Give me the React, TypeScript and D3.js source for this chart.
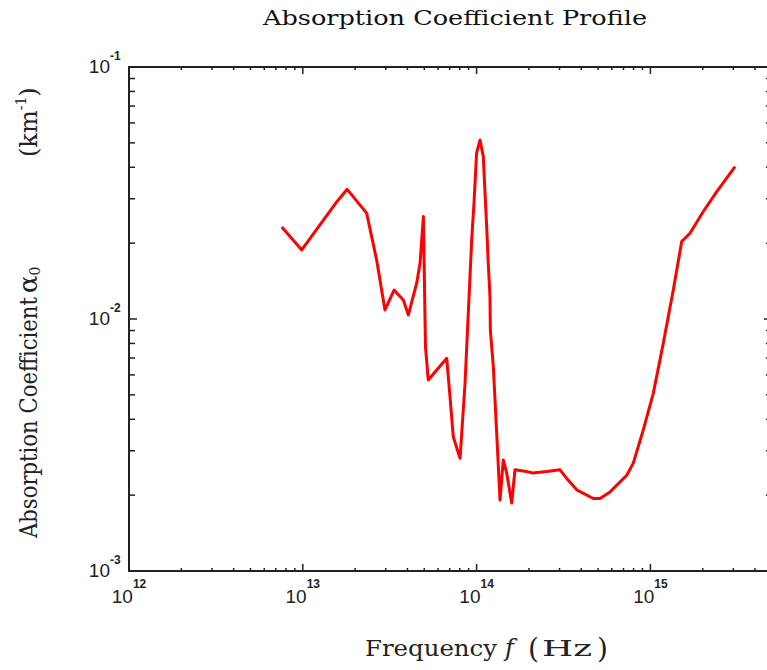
import React from "react";
import * as d3 from "d3";

// frequency (Hz) and absorption coefficient (1/km)
const freq = [
  7.57e12, 9.86e12, 1.57e13, 1.8e13, 2.33e13, 2.66e13, 2.97e13, 3.35e13, 3.79e13, 4.05e13,
  4.52e13, 4.73e13, 4.94e13, 5.08e13, 5.27e13, 6.73e13, 7.03e13, 7.34e13, 8.03e13, 8.58e13,
  8.96e13, 9.37e13, 9.66e13, 1.0e14, 1.046e14, 1.093e14, 1.118e14, 1.143e14, 1.167e14, 1.194e14,
  1.2e14, 1.248e14, 1.305e14, 1.364e14, 1.424e14, 1.49e14, 1.592e14, 1.663e14, 1.94e14, 2.11e14,
  2.53e14, 3.02e14, 3.3e14, 3.77e14, 4.69e14, 5.13e14, 5.86e14, 7.31e14, 7.97e14, 9.1e14,
  1.039e15, 1.186e15, 1.354e15, 1.514e15, 1.69e15, 2.015e15, 2.41e15, 3.07e15,
];
const alpha = [
  0.0232, 0.0188, 0.0292, 0.0327, 0.0263, 0.01714, 0.01086, 0.01303, 0.0119, 0.01038,
  0.01387, 0.01667, 0.0255, 0.00776, 0.00573, 0.00698, 0.00492, 0.00341, 0.0028, 0.00556,
  0.01057, 0.0206, 0.0288, 0.0456, 0.0513, 0.0441, 0.0316, 0.0232, 0.01667, 0.01226,
  0.00904, 0.00647, 0.00352, 0.00191, 0.00276, 0.00245, 0.00186, 0.00252, 0.00248, 0.00245,
  0.00248, 0.00252, 0.00233, 0.0021, 0.00194, 0.00194, 0.00206, 0.0024, 0.00268, 0.00363,
  0.00507, 0.00801, 0.01303, 0.0203, 0.0219, 0.0267, 0.032, 0.0402,
];

const xDecades = [12, 13, 14, 15];
const yDecades = [-3, -2, -1];
const xDomain = [1e12, 5e15];
const yDomain = [1e-3, 1e-1];

const W = 767;
const H = 670;
const left = 129;
const top = 67;
const bottom = 571;
const decadeW = 173.8;

export default function App() {
  const x = d3
    .scaleLog()
    .domain(xDomain)
    .range([left, left + decadeW * Math.log10(xDomain[1] / xDomain[0])]);
  const y = d3.scaleLog().domain(yDomain).range([bottom, top]);
  const right = x.range()[1];

  const xTicks: { v: number; major: boolean }[] = [];
  xDecades.forEach((d) => {
    for (let m = 1; m <= 9; m++) {
      const v = m * Math.pow(10, d);
      if (v >= xDomain[0] && v <= xDomain[1]) xTicks.push({ v, major: m === 1 });
    }
  });
  const yTicks: { v: number; major: boolean }[] = [];
  yDecades.forEach((d) => {
    for (let m = 1; m <= 9; m++) {
      const v = m * Math.pow(10, d);
      if (v >= yDomain[0] && v <= yDomain[1] * 1.0001) yTicks.push({ v, major: m === 1 });
    }
  });

  const line = d3
    .line<number>()
    .x((d, i) => x(freq[i]))
    .y((d) => y(d));

  const axisColor = "#222";
  const sans = "'Liberation Sans', Arial, sans-serif";
  const serif = "'DejaVu Serif', 'Liberation Serif', serif";

  return (
    <svg
      width={W}
      height={H}
      style={{ position: "absolute", left: 0, top: 0, background: "#fff" }}
    >
      {/* title */}
      <text
        x={455}
        y={25}
        textAnchor="middle"
        fontFamily={serif}
        fontSize={21}
        textLength={384}
        lengthAdjust="spacingAndGlyphs"
        fill="#111"
      >
        Absorption Coefficient Profile
      </text>

      {/* frame */}
      <rect
        x={left}
        y={top}
        width={right - left}
        height={bottom - top}
        fill="none"
        stroke={axisColor}
        strokeWidth={2}
      />

      {/* x ticks, bottom and top */}
      {xTicks.map((t, i) => (
        <g key={"x" + i}>
          <line
            x1={x(t.v)}
            x2={x(t.v)}
            y1={bottom}
            y2={bottom - (t.major ? 7 : 3)}
            stroke={axisColor}
            strokeWidth={1.5}
          />
          <line
            x1={x(t.v)}
            x2={x(t.v)}
            y1={top}
            y2={top + (t.major ? 7 : 3)}
            stroke={axisColor}
            strokeWidth={1.5}
          />
        </g>
      ))}

      {/* y ticks, left and right */}
      {yTicks.map((t, i) => (
        <g key={"y" + i}>
          <line
            x1={left}
            x2={left + (t.major ? 8 : 6)}
            y1={y(t.v)}
            y2={y(t.v)}
            stroke={axisColor}
            strokeWidth={1.5}
          />
          <line
            x1={right}
            x2={right - (t.major ? 8 : 6)}
            y1={y(t.v)}
            y2={y(t.v)}
            stroke={axisColor}
            strokeWidth={1.5}
          />
        </g>
      ))}

      {/* x tick labels */}
      {xDecades.map((d) => (
        <text
          key={"xl" + d}
          x={x(Math.pow(10, d))}
          y={603}
          textAnchor="middle"
          fontFamily={sans}
          fontSize={19}
          fill="#222"
        >
          10
          <tspan fontSize={12} fontWeight="bold" dy={-15}>
            {d}
          </tspan>
        </text>
      ))}

      {/* y tick labels */}
      {yDecades.map((d) => (
        <text
          key={"yl" + d}
          x={110}
          y={y(Math.pow(10, d)) + 6}
          textAnchor="end"
          fontFamily={sans}
          fontSize={19}
          fill="#222"
        >
          10
        </text>
      ))}
      {yDecades.map((d) => (
        <text
          key={"ys" + d}
          x={110}
          y={y(Math.pow(10, d)) - 7}
          fontFamily={sans}
          fontSize={12}
          fontWeight="bold"
          fill="#222"
        >
          {d}
        </text>
      ))}

      {/* data */}
      <path d={line(alpha) || ""} fill="none" stroke="#ff0000" strokeWidth={3} strokeLinejoin="round" />

      {/* x axis title */}
      <text x={365} y={656} fontFamily={serif} fontSize={22} textLength={132} lengthAdjust="spacingAndGlyphs" fill="#222">
        Frequency
      </text>
      <text x={505} y={656} fontFamily={serif} fontSize={24} fontStyle="italic" fill="#222">
        f
      </text>
      <text x={528} y={658} fontFamily={serif} fontSize={28} fontWeight="300" fill="#222">
        (
      </text>
      <text x={542} y={656} fontFamily={serif} fontSize={22} textLength={50} lengthAdjust="spacingAndGlyphs" fill="#222">
        Hz
      </text>
      <text x={597} y={658} fontFamily={serif} fontSize={28} fontWeight="300" fill="#222">
        )
      </text>

      {/* y axis title */}
      <g transform="translate(37,0)">
        <text
          transform="translate(0,538) rotate(-90)"
          fontFamily={serif}
          fontSize={24}
          textLength={241}
          lengthAdjust="spacingAndGlyphs"
          fill="#222"
        >
          Absorption Coefficient
        </text>
        <text transform="translate(0,293) rotate(-90)" fontFamily={serif} fontSize={26} fill="#222">
          α
          <tspan fontSize={14} dy={3}>
            0
          </tspan>
        </text>
        <text
          transform="translate(0,157) rotate(-90)"
          fontFamily={serif}
          fontSize={24}
          fill="#222"
        >
          (km
          <tspan fontSize={14} dy={-11}>
            -1
          </tspan>
          <tspan dy={11}>)</tspan>
        </text>
      </g>
    </svg>
  );
}
